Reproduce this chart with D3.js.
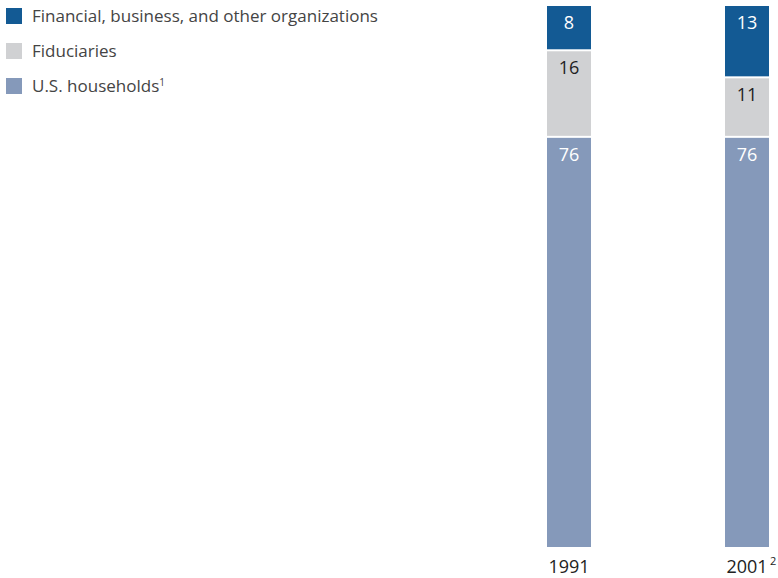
<!DOCTYPE html>
<html>
<head>
<meta charset="utf-8">
<script src="https://cdn.jsdelivr.net/npm/d3@7"></script>
<style>
  body { margin: 0; background: #fff; }
  text { font-family: "Open Sans", "Noto Sans", sans-serif; }
</style>
</head>
<body>
<div id="chart"></div>
<script>
// data
const years = ["1991", "2001"];
const yearNotes = ["", "2"];
const seriesKeys = ["households", "fiduciaries", "financial"];
const seriesNames = ["U.S. households", "Fiduciaries", "Financial, business, and other organizations"];
const seriesNotes = ["1", "", ""];
const households = [76, 76];
const fiduciaries = [16, 11];
const financial = [8, 13];

const colors = { households: "#8599ba", fiduciaries: "#d0d1d3", financial: "#135a94" };
const labelColors = { households: "#fff", fiduciaries: "#222", financial: "#fff" };

const width = 778, height = 578;
const svg = d3.select("#chart").append("svg")
    .attr("width", width)
    .attr("height", height);

const rows = years.map((y, i) => ({
    year: y, households: households[i], fiduciaries: fiduciaries[i], financial: financial[i]
}));
const stacked = d3.stack().keys(seriesKeys)(rows);

// bars 44px wide, 1991 at x=547, 2001 at x=725
const x = d3.scaleBand().domain(years).range([547, 769]).paddingInner(1 - 44 / 178).paddingOuter(0);
const y = d3.scaleLinear().domain([0, 100]).range([547, 6]);

const gap = 2;

// bars
const layers = svg.selectAll("g.layer")
    .data(stacked)
    .join("g")
    .attr("class", "layer")
    .attr("fill", d => colors[d.key]);

layers.selectAll("rect")
    .data(d => d.map(v => Object.assign(v, { key: d.key })))
    .join("rect")
    .attr("x", d => x(d.data.year))
    .attr("width", x.bandwidth())
    .attr("y", d => y(d[1]) + (d[1] < 100 ? gap : 0))
    .attr("height", d => y(d[0]) - y(d[1]) - (d[1] < 100 ? gap : 0));

// value labels
layers.selectAll("text")
    .data(d => d)
    .join("text")
    .attr("x", d => x(d.data.year) + x.bandwidth() / 2)
    .attr("y", d => y(d[1]) + (d[1] < 100 ? gap : 0) + 23)
    .attr("text-anchor", "middle")
    .attr("font-size", 18)
    .attr("fill", d => labelColors[d.key])
    .text(d => d[1] - d[0]);

// year labels, centred under the bars
svg.selectAll("text.year")
    .data(years)
    .join("text")
    .attr("class", "year")
    .attr("x", d => x(d) + x.bandwidth() / 2)
    .attr("y", 573)
    .attr("text-anchor", "middle")
    .attr("font-size", 18)
    .attr("fill", "#222")
    .text(d => d);

// footnote marks hang past the year
svg.selectAll("text.note")
    .data(years)
    .join("text")
    .attr("class", "note")
    .attr("x", d => x(d) + x.bandwidth() + 1)
    .attr("y", 565)
    .attr("font-size", 11)
    .attr("fill", "#222")
    .text((d, i) => yearNotes[i]);

// legend (top to bottom)
const legendOrder = [2, 1, 0];
const legend = svg.selectAll("g.legend")
    .data(legendOrder)
    .join("g")
    .attr("class", "legend")
    .attr("transform", (d, i) => `translate(6, ${8 + i * 35})`);

legend.append("rect")
    .attr("width", 16)
    .attr("height", 16)
    .attr("fill", d => colors[seriesKeys[d]]);

const lt = legend.append("text")
    .attr("x", 26)
    .attr("y", 14)
    .attr("font-size", 17)
    .attr("fill", "#444");
lt.append("tspan").text(d => seriesNames[d]);
lt.append("tspan")
    .attr("font-size", 10)
    .attr("dy", -6)
    .text(d => seriesNotes[d]);
</script>
</body>
</html>
